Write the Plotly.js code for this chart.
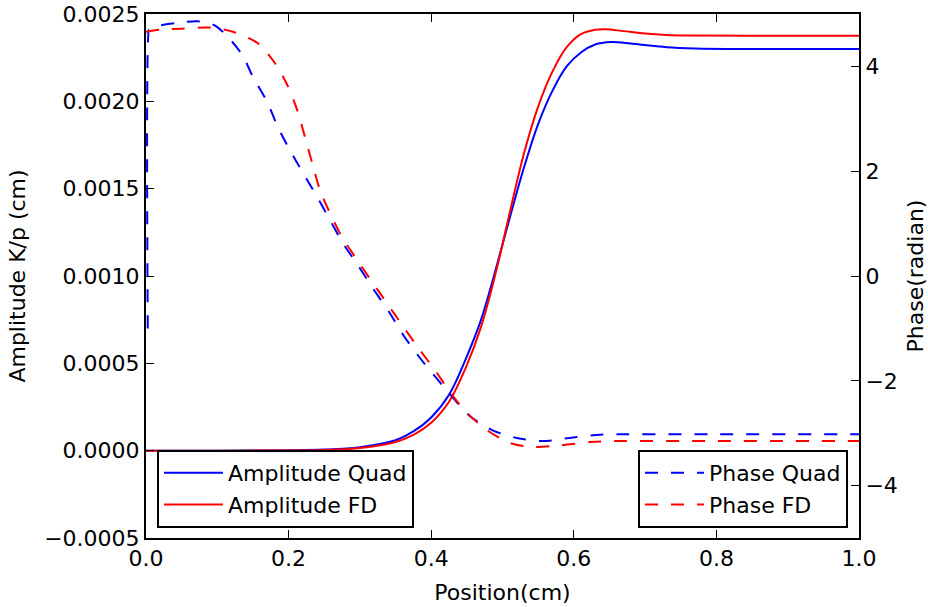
<!DOCTYPE html>
<html>
<head>
<meta charset="utf-8">
<script src="https://cdn.plot.ly/plotly-3.0.1.min.js"></script>
<style>html,body{margin:0;padding:0;background:#fff;}#chart{width:928px;height:607px;}</style>
</head>
<body>
<div id="chart"></div>
<script>
// Amplitude Quad
const ampQuadX = [0, 0.1, 0.2, 0.25, 0.3, 0.35, 0.375, 0.4, 0.425, 0.45, 0.47, 0.49, 0.51, 0.53, 0.55, 0.57, 0.59, 0.61, 0.63, 0.653, 0.67, 0.7, 0.73, 0.77, 0.85, 1.0];
const ampQuadY = [0, 0, 0.000002, 0.000006, 0.00002, 0.00006, 0.00011, 0.00019, 0.00032, 0.00054, 0.00075, 0.00103, 0.00133, 0.00162, 0.00187, 0.00206, 0.0022, 0.00228, 0.002325, 0.002339, 0.002336, 0.002322, 0.00231, 0.002303, 0.0023, 0.0023];
// Amplitude FD
const ampFDX = [0, 0.1, 0.2, 0.25, 0.3, 0.35, 0.375, 0.4, 0.425, 0.45, 0.47, 0.49, 0.51, 0.53, 0.55, 0.57, 0.59, 0.61, 0.63, 0.645, 0.67, 0.7, 0.73, 0.76, 0.85, 1.0];
const ampFDY = [0, 0, 0.000001, 0.000004, 0.000015, 0.00005, 0.00009, 0.00016, 0.00028, 0.00049, 0.00071, 0.00101, 0.00136, 0.0017, 0.00197, 0.00217, 0.00231, 0.002385, 0.00241, 0.002413, 0.002402, 0.002388, 0.00238, 0.002377, 0.002376, 0.002376];
// Phase Quad
const phaseQuadX = [0.0025, 0.004, 0.0048, 0.02, 0.05, 0.072, 0.09, 0.1, 0.115, 0.135, 0.15, 0.17, 0.185, 0.202, 0.22, 0.24, 0.258, 0.276, 0.297, 0.318, 0.342, 0.361, 0.384, 0.408, 0.431, 0.454, 0.487, 0.52, 0.557, 0.599, 0.637, 0.674, 0.8, 1.0];
const phaseQuadY = [-1.0, 4.7, 4.71, 4.78, 4.84, 4.86, 4.82, 4.75, 4.56, 4.22, 3.8, 3.32, 2.84, 2.4, 1.97, 1.51, 1.07, 0.63, 0.21, -0.23, -0.71, -1.13, -1.56, -1.96, -2.33, -2.67, -2.95, -3.09, -3.15, -3.08, -3.03, -3.02, -3.02, -3.02];
// Phase FD
const phaseFDX = [0, 0.02, 0.05, 0.09, 0.122, 0.156, 0.181, 0.198, 0.212, 0.223, 0.233, 0.244, 0.258, 0.275, 0.296, 0.317, 0.338, 0.361, 0.384, 0.405, 0.426, 0.45, 0.478, 0.511, 0.543, 0.581, 0.623, 0.66, 0.8, 1.0];
const phaseFDY = [4.66, 4.7, 4.72, 4.74, 4.66, 4.45, 4.06, 3.65, 3.17, 2.65, 2.16, 1.64, 1.2, 0.74, 0.31, -0.11, -0.52, -0.97, -1.41, -1.79, -2.21, -2.61, -2.94, -3.19, -3.26, -3.23, -3.17, -3.15, -3.15, -3.15];

const FONT = 'DejaVu Sans, sans-serif';
const FS = 22;

const traces = [
  {x: ampQuadX, y: ampQuadY, name: 'Amplitude Quad', mode: 'lines', line: {color: '#0000ff', width: 2, shape: 'spline', smoothing: 1}, legend: 'legend', yaxis: 'y'},
  {x: ampFDX, y: ampFDY, name: 'Amplitude FD', mode: 'lines', line: {color: '#ff0000', width: 2, shape: 'spline', smoothing: 1}, legend: 'legend', yaxis: 'y'},
  {x: phaseQuadX, y: phaseQuadY, name: 'Phase Quad', mode: 'lines', line: {color: '#0000ff', width: 2, dash: '13px,13px', shape: 'spline', smoothing: 0.8}, legend: 'legend2', yaxis: 'y2'},
  {x: phaseFDX, y: phaseFDY, name: 'Phase FD', mode: 'lines', line: {color: '#ff0000', width: 2, dash: '13px,13px', shape: 'spline', smoothing: 0.8}, legend: 'legend2', yaxis: 'y2'}
];

const layout = {
  width: 928, height: 607,
  margin: {l: 146, r: 69, t: 14, b: 69},
  paper_bgcolor: '#fff', plot_bgcolor: '#fff',
  font: {family: FONT, size: FS, color: '#000'},
  showlegend: true,
  xaxis: {
    range: [0, 1], dtick: 0.2, tick0: 0, tickformat: '.1f',
    showgrid: false, zeroline: false,
    showline: true, linecolor: '#000', linewidth: 2, mirror: 'ticks',
    ticks: 'inside', ticklen: 8, tickwidth: 1, tickcolor: '#000',
    title: {text: 'Position(cm)', font: {family: FONT, size: FS}, standoff: 14},
    tickfont: {family: FONT, size: FS}
  },
  yaxis: {
    range: [-0.0005, 0.0025], dtick: 0.0005, tick0: 0, tickformat: '.4f',
    showgrid: false, zeroline: false,
    showline: true, linecolor: '#000', linewidth: 2, mirror: true,
    ticks: 'inside', ticklen: 8, tickwidth: 1, tickcolor: '#000',
    title: {text: 'Amplitude K/p (cm)', font: {family: FONT, size: FS}, standoff: 12},
    tickfont: {family: FONT, size: FS}
  },
  yaxis2: {
    overlaying: 'y', side: 'right',
    range: [-5, 5], dtick: 2, tick0: 0,
    showgrid: false, zeroline: false,
    showline: true, linecolor: '#000', linewidth: 2,
    ticks: 'inside', ticklen: 8, tickwidth: 1, tickcolor: '#000',
    title: {text: 'Phase(radian)', font: {family: FONT, size: FS}, standoff: 16},
    tickfont: {family: FONT, size: FS}
  },
  legend: {
    x: 0.0154, y: 0.019, xanchor: 'left', yanchor: 'bottom',
    bgcolor: '#fff', bordercolor: '#000', borderwidth: 2, itemwidth: 59,
    font: {family: FONT, size: FS}, tracegroupgap: 0
  },
  legend2: {
    x: 0.9846, y: 0.019, xanchor: 'right', yanchor: 'bottom',
    bgcolor: '#fff', bordercolor: '#000', borderwidth: 2, itemwidth: 59,
    font: {family: FONT, size: FS}, tracegroupgap: 0
  }
};

Plotly.newPlot('chart', traces, layout, {displayModeBar: false, staticPlot: true});
</script>
</body>
</html>
